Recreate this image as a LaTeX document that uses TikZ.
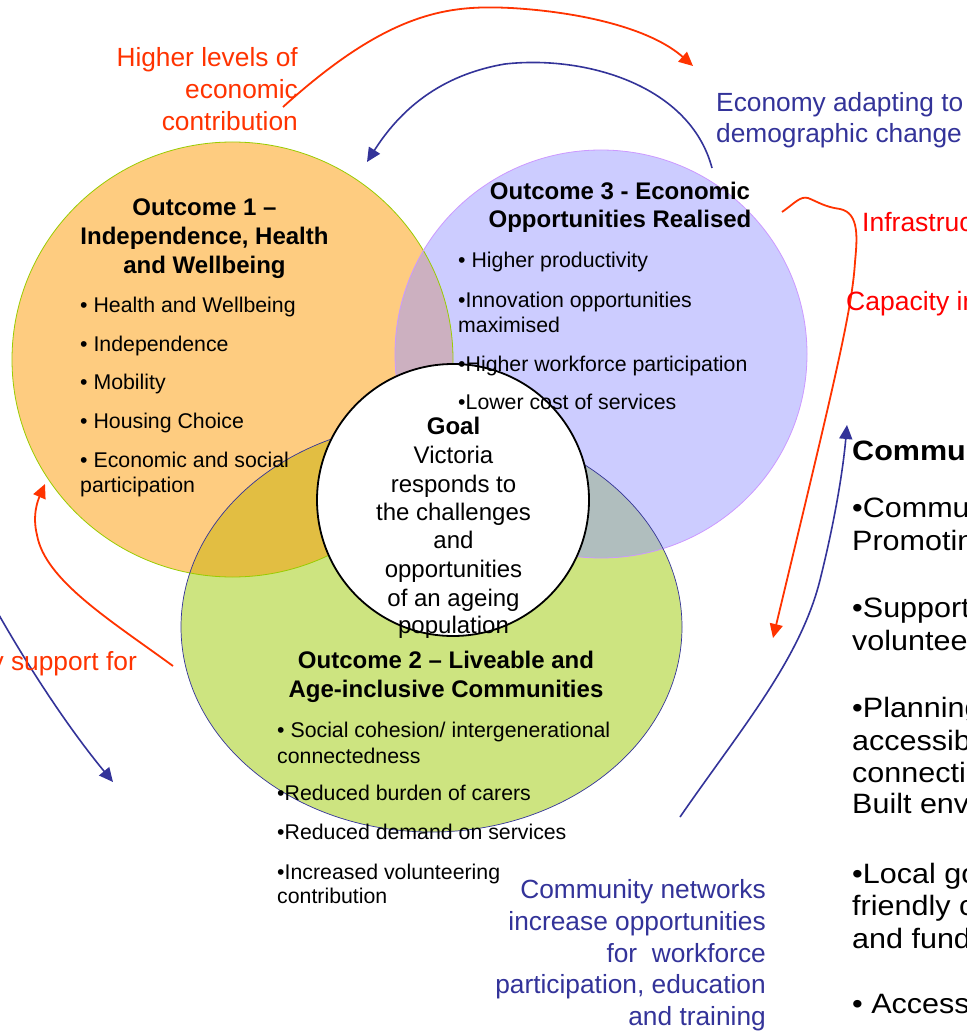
\documentclass[tikz,border=0pt]{standalone}
\usepackage{fontspec}
\setmainfont{Liberation Sans}
\newfontfamily\rcolfont[FakeStretch=1.09]{Liberation Sans}
\usetikzlibrary{arrows.meta}
\definecolor{orfill}{RGB}{254,204,128}
\definecolor{pufill}{RGB}{204,204,255}
\definecolor{grfill}{RGB}{205,228,128}
\definecolor{opfill}{RGB}{204,176,192}
\definecolor{ogfill}{RGB}{226,190,66}
\definecolor{pgfill}{RGB}{176,190,190}
\definecolor{orline}{RGB}{153,204,0}
\definecolor{puline}{RGB}{204,153,255}
\definecolor{bluea}{RGB}{51,51,153}
\definecolor{redo}{RGB}{255,51,0}
\definecolor{redp}{RGB}{255,0,0}
\tikzset{
  body/.style={font=\fontsize{21.3}{25}\selectfont, inner sep=0pt, anchor=base west},
  ttl/.style={font=\bfseries\fontsize{24}{28.5}\selectfont, inner sep=0pt, anchor=base},
  goaltxt/.style={font=\fontsize{24}{28.5}\selectfont, inner sep=0pt, anchor=base},
  lblr/.style={font=\fontsize{26.3}{32}\selectfont, inner sep=0pt, text=redo},
  lblp/.style={font=\fontsize{26.5}{32}\selectfont, inner sep=0pt, text=redp, anchor=base west},
  lblb/.style={font=\fontsize{26.3}{32}\selectfont, inner sep=0pt, text=bluea},
  rcol/.style={font=\rcolfont\fontsize{28}{33}\selectfont, inner sep=0pt, anchor=base west},
  rarrow/.style={draw=redo, line width=1.8pt, -{Triangle[length=14pt,width=13pt]}},
  barrow/.style={draw=bluea, line width=1.6pt, -{Triangle[length=14pt,width=13pt]}},
}
\begin{document}
\begin{tikzpicture}[x=1pt,y=-1pt]
\useasboundingbox (0,0) rectangle (966,1032);
\clip (0,0) rectangle (966,1032);
\fill[white] (0,0) rectangle (966,1032);
% circles
\fill[orfill] (232.5,359.5) ellipse [x radius=220.5, y radius=217.5];
\fill[pufill] (601,354) ellipse [x radius=206, y radius=204];
\fill[grfill] (431.5,627) ellipse [x radius=250.5, y radius=205];
\begin{scope}
  \clip (232.5,359.5) ellipse [x radius=220.5, y radius=217.5];
  \fill[opfill] (601,354) ellipse [x radius=206, y radius=204];
  \fill[ogfill] (431.5,627) ellipse [x radius=250.5, y radius=205];
\end{scope}
\begin{scope}
  \clip (601,354) ellipse [x radius=206, y radius=204];
  \fill[pgfill] (431.5,627) ellipse [x radius=250.5, y radius=205];
\end{scope}
\draw[orline, line width=0.8pt] (232.5,359.5) ellipse [x radius=220.5, y radius=217.5];
\draw[puline, line width=0.8pt] (601,354) ellipse [x radius=206, y radius=204];
\draw[bluea, line width=0.7pt] (431.5,627) ellipse [x radius=250.5, y radius=205];
\node[draw=black, line width=1.8pt, fill=white, circle, minimum size=272pt, inner sep=0pt] (goal) at (453,500) {};
% arrows
\coordinate (a1s) at (283,107); \coordinate (a1t) at (693,66);
\draw[rarrow] (a1s) .. controls (390,10) and (450,5) .. (511,8) .. controls (580,12) and (650,28) .. (a1t);
\coordinate (a2s) at (712,168); \coordinate (a2t) at (367,162);
\draw[barrow] (a2s) .. controls (690,85) and (585,55) .. (505,64) .. controls (440,75) and (400,110) .. (a2t);
\coordinate (a3s) at (782,212); \coordinate (a3t) at (773,638);
\draw[rarrow] (a3s) .. controls (795,203) and (800,196) .. (808,198) .. controls (818,202) and (825,207) .. (840,209) .. controls (860,213) and (857,240) .. (855,262) .. controls (852,310) and (835,380) .. (a3t);
\coordinate (a4s) at (680,817); \coordinate (a4t) at (847,425);
\draw[barrow] (a4s) .. controls (740,730) and (800,660) .. (820,580) .. controls (835,520) and (843,470) .. (a4t);
\coordinate (a5s) at (173,666); \coordinate (a5t) at (45,484);
\draw[rarrow] (a5s) .. controls (110,620) and (45,580) .. (37,535) .. controls (32,515) and (38,500) .. (a5t);
\coordinate (a6s) at (-5,608); \coordinate (a6t) at (113,782);
\draw[barrow] (a6s) .. controls (30,670) and (70,730) .. (a6t);
% labels
\node[lblr, anchor=base east] (hl1) at (298,67) {Higher levels of};
\node[lblr, anchor=base east] (hl2) at (298,99) {economic};
\node[lblr, anchor=base east] (hl3) at (298,131) {contribution};
\node[lblb, anchor=base west] (ea1) at (716,112) {Economy adapting to};
\node[lblb, anchor=base west] (ea2) at (716,143) {demographic change};
\node[lblp] (inf) at (862,232) {Infrastructure};
\node[lblp] (cap) at (846,310) {Capacity in};
\node[lblr, anchor=base east] (sup) at (137,670) {y support for};
\node[lblb, anchor=base east] (cn1) at (766,898) {Community networks};
\node[lblb, anchor=base east] (cn2) at (766,930) {increase opportunities};
\node[lblb, anchor=base east] (cn3) at (766,962) {for\ \ workforce};
\node[lblb, anchor=base east] (cn4) at (766,993) {participation, education};
\node[lblb, anchor=base east] (cn5) at (766,1025) {and training};
% outcome 1
\node[ttl] (o1a) at (204.5,216) {Outcome 1 –};
\node[ttl] (o1b) at (204.5,244.5) {Independence, Health};
\node[ttl] (o1c) at (204.5,273) {and Wellbeing};
\node[body] (o1d) at (80,312.5) {• Health and Wellbeing};
\node[body] (o1e) at (80,351) {• Independence};
\node[body] (o1f) at (80,389) {• Mobility};
\node[body] (o1g) at (80,428) {• Housing Choice};
\node[body] (o1h) at (80,467) {• Economic and social};
\node[body] (o1i) at (80,492) {participation};
% outcome 3
\node[ttl] (o3a) at (620,200) {Outcome 3 - Economic};
\node[ttl] (o3b) at (620,228) {Opportunities Realised};
\node[body] (o3c) at (458,267) {• Higher productivity};
\node[body] (o3d) at (458,307) {•Innovation opportunities};
\node[body] (o3e) at (458,332) {maximised};
\node[body] (o3f) at (458,371) {•Higher workforce participation};
\node[body] (o3g) at (458,409) {•Lower cost of services};
% goal
\node[ttl] (g1) at (453.5,434) {Goal};
\node[goaltxt] (g2) at (453.5,463) {Victoria};
\node[goaltxt] (g3) at (453.5,492) {responds to};
\node[goaltxt] (g4) at (453.5,520) {the challenges};
\node[goaltxt] (g5) at (453.5,548) {and};
\node[goaltxt] (g6) at (453.5,577) {opportunities};
\node[goaltxt] (g7) at (453.5,606) {of an ageing};
\node[goaltxt] (g8) at (453.5,633) {population};
% outcome 2
\node[ttl] (o2a) at (446,668) {Outcome 2 – Liveable and};
\node[ttl] (o2b) at (446,697) {Age-inclusive Communities};
\node[body] (o2c) at (277,737) {• Social cohesion/ intergenerational};
\node[body] (o2d) at (277,763) {connectedness};
\node[body] (o2e) at (277,800) {•Reduced burden of carers};
\node[body] (o2f) at (277,839) {•Reduced demand on services};
\node[body] (o2g) at (277,879) {•Increased volunteering};
\node[body] (o2h) at (277,903) {contribution};
% right column
\node[rcol, font=\rcolfont\bfseries\fontsize{28}{33}\selectfont] (rc0) at (852,460) {Community};
\node[rcol] (rc1) at (852,517) {•Community};
\node[rcol] (rc2) at (852,550) {Promoting};
\node[rcol] (rc3) at (852,617) {•Supporting};
\node[rcol] (rc4) at (852,650) {volunteering};
\node[rcol] (rc5) at (852,717) {•Planning};
\node[rcol] (rc6) at (852,750) {accessible};
\node[rcol] (rc7) at (852,782) {connecting};
\node[rcol] (rc8) at (852,813) {Built environment};
\node[rcol] (rc9) at (852,883) {•Local government};
\node[rcol] (rc10) at (852,915) {friendly communities};
\node[rcol] (rc11) at (852,948) {and funding};
\node[rcol] (rc12) at (852,1013) {• Accessible};
\end{tikzpicture}
\end{document}
